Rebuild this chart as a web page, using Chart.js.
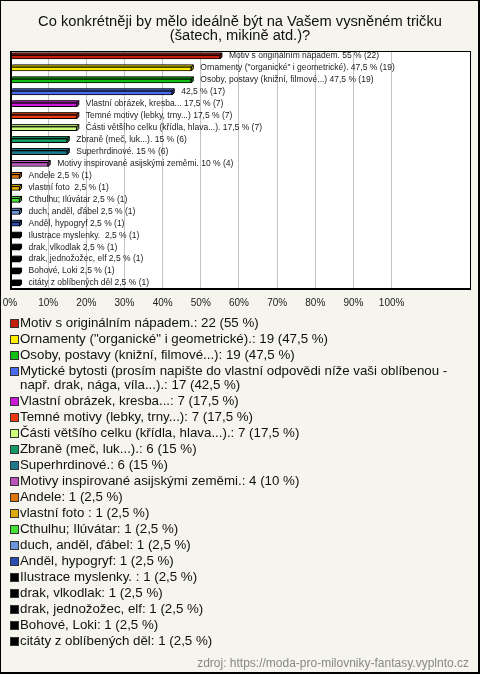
<!DOCTYPE html>
<html>
<head>
<meta charset="utf-8">
<script src="https://cdn.jsdelivr.net/npm/chart.js@4/dist/chart.umd.min.js"></script>
<style>
    body { margin: 0; background: #fff; }
    #frame { position: relative; width: 480px; height: 674px; background: #f5f4ed; overflow: hidden; font-family: "Liberation Sans", Arial, sans-serif; }
    #frame::after { content: ''; position: absolute; inset: 0; border: 1px solid #000; border-right-width: 2px; border-bottom-width: 2px; pointer-events: none; }
    #title { position: absolute; top: 14px; left: 0; width: 480px; text-align: center; font-size: 14.7px; line-height: 14px; color: #111; z-index: 2; }
    #plot { position: absolute; top: 0; left: 0; }
    #legend { position: absolute; top: 316px; left: 10px; width: 460px; font-size: 13.3px; color: #111; }
    .li { position: relative; padding-left: 10px; line-height: 14px; margin-bottom: 2px; }
    .sw { position: absolute; left: 0; top: 2.5px; width: 9px; height: 9px; box-sizing: border-box; border: 1px solid #333; }
    #source { position: absolute; top: 655px; right: 11px; font-size: 12px; line-height: 16px; color: #888; }
</style>
</head>
<body>
<div id="frame">
    <div id="title">Co konkrétněji by mělo ideálně být na Vašem vysněném tričku<br>(šatech, mikině atd.)?</div>
    <canvas id="plot" width="480" height="320"></canvas>
    <div id="legend"></div>
    <div id="source">zdroj: https://moda-pro-milovniky-fantasy.vyplnto.cz</div>
</div>
<script>
// answers as shown in the legend
const categories = [
    'Motiv s originálním nápadem.',
    'Ornamenty ("organické" i geometrické).',
    'Osoby, postavy (knižní, filmové...)',
    'Mytické bytosti (prosím napište do vlastní odpovědi níže vaši oblíbenou - např. drak, nága, víla...).',
    'Vlastní obrázek, kresba...',
    'Temné motivy (lebky, trny...)',
    'Části většího celku (křídla, hlava...).',
    'Zbraně (meč, luk...).',
    'Superhrdinové.',
    'Motivy inspirované asijskými zeměmi.',
    'Andele',
    'vlastní foto ',
    'Cthulhu; Ilúvátar',
    'duch, anděl, ďábel',
    'Anděl, hypogryf',
    'Ilustrace myslenky. ',
    'drak, vlkodlak',
    'drak, jednožožec, elf',
    'Bohové, Loki',
    'citáty z oblíbených děl'
];
// labels written next to the bars (the long one is left out)
const barNames = categories.map((c, i) => i === 3 ? '' : c);
const counts = [22, 19, 19, 17, 7, 7, 7, 6, 6, 4, 1, 1, 1, 1, 1, 1, 1, 1, 1, 1];
const percents = [55, 47.5, 47.5, 42.5, 17.5, 17.5, 17.5, 15, 15, 10, 2.5, 2.5, 2.5, 2.5, 2.5, 2.5, 2.5, 2.5, 2.5, 2.5];
const colors = ['#c4200c', '#ffee00', '#11c011', '#4a6cf0', '#cc18d8', '#ee3a0c', '#ccff77', '#129a62', '#1b7a8e', '#bb55bb',
    '#e07408', '#deaa08', '#44e033', '#6a96dc', '#2a4eb0', '#000', '#000', '#000', '#000', '#000'];
const xTicks = [0, 10, 20, 30, 40, 50, 60, 70, 80, 90, 100];

const FONT = '"Liberation Sans", Arial, sans-serif';
const fmt = v => String(v).replace('.', ',');

function shade(hex, f) {
    if (hex.length === 4) hex = '#' + hex[1] + hex[1] + hex[2] + hex[2] + hex[3] + hex[3];
    const n = parseInt(hex.slice(1), 16);
    const r = Math.round(((n >> 16) & 255) * f), g = Math.round(((n >> 8) & 255) * f), b = Math.round((n & 255) * f);
    return `rgb(${r},${g},${b})`;
}

const plotBox = {
    id: 'plotBox',
    beforeDraw(chart) {
        const { ctx, chartArea: a } = chart;
        ctx.save();
        ctx.fillStyle = '#fff';
        ctx.fillRect(a.left, a.top, a.right - a.left, a.bottom - a.top);
        ctx.restore();
    },
    afterDatasetsDraw(chart) {
        const { ctx } = chart;
        const meta = chart.getDatasetMeta(0);
        const d = 2;
        ctx.save();
        ctx.lineWidth = 1;
        ctx.strokeStyle = '#000';
        meta.data.forEach((bar, i) => {
            const h = bar.height, top = bar.y - h / 2, bottom = bar.y + h / 2;
            const x0 = bar.base, x1 = bar.x;
            // top face
            ctx.beginPath();
            ctx.moveTo(x0, top); ctx.lineTo(x0 + d, top - d); ctx.lineTo(x1 + d, top - d); ctx.lineTo(x1, top); ctx.closePath();
            ctx.fillStyle = colors[i];
            ctx.fill(); ctx.stroke();
            // end face
            ctx.beginPath();
            ctx.moveTo(x1, top); ctx.lineTo(x1 + d, top - d); ctx.lineTo(x1 + d, bottom - d); ctx.lineTo(x1, bottom); ctx.closePath();
            ctx.fillStyle = shade(colors[i], 0.7);
            ctx.fill(); ctx.stroke();

            const pct = fmt(percents[i]) + ' % (' + counts[i] + ')';
            const txt = barNames[i] ? barNames[i] + ' ' + pct : pct;
            ctx.fillStyle = '#1a1a1a';
            ctx.font = '8.5px ' + FONT;
            ctx.textBaseline = 'middle';
            ctx.fillText(txt, x1 + 9, bar.y - 1);
        });
        ctx.restore();
    },
    afterDraw(chart) {
        const { ctx, chartArea: a } = chart;
        ctx.save();
        ctx.strokeStyle = '#000';
        ctx.lineWidth = 1;
        ctx.strokeRect(a.left + 0.5, a.top + 0.5, a.right - a.left - 1, a.bottom - a.top - 1);
        ctx.fillStyle = '#000';
        ctx.fillRect(a.left, a.top, 2, a.bottom - a.top);
        ctx.fillRect(a.left, a.bottom - 2, a.right - a.left, 2);
        ctx.restore();
    }
};

new Chart(document.getElementById('plot'), {
    type: 'bar',
    data: {
        labels: barNames,
        datasets: [{
            data: percents,
            backgroundColor: colors,
            borderColor: '#000',
            borderWidth: 1,
            borderSkipped: false,
            barThickness: 4
        }]
    },
    options: {
        indexAxis: 'y',
        responsive: false,
        animation: false,
        layout: { padding: { left: 10, right: 9, top: 51, bottom: 8 } },
        plugins: { legend: { display: false }, tooltip: { enabled: false } },
        scales: {
            x: {
                type: 'linear',
                min: 0,
                max: 120.8,
                afterBuildTicks: s => { s.ticks = xTicks.map(v => ({ value: v })); },
                afterFit: s => { s.height = 22; s.paddingLeft = 0; s.paddingRight = 0; },
                ticks: { callback: v => v + '%', font: { family: FONT, size: 10 }, color: '#222', padding: 7, maxRotation: 0, autoSkip: false },
                grid: { color: c => (c.tick && c.tick.value === 0) ? 'rgba(0,0,0,0)' : '#c4c4c4', drawTicks: false },
                border: { display: false }
            },
            y: { display: false }
        }
    },
    plugins: [plotBox]
});

document.getElementById('legend').innerHTML = categories.map((c, i) => `
    <div class="li"><span class="sw" style="background:${colors[i]}"></span>${c.replace(/&/g, '&amp;').replace(/</g, '&lt;')}: ${counts[i]} (${fmt(percents[i])} %)</div>
`).join('');
</script>
</body>
</html>
